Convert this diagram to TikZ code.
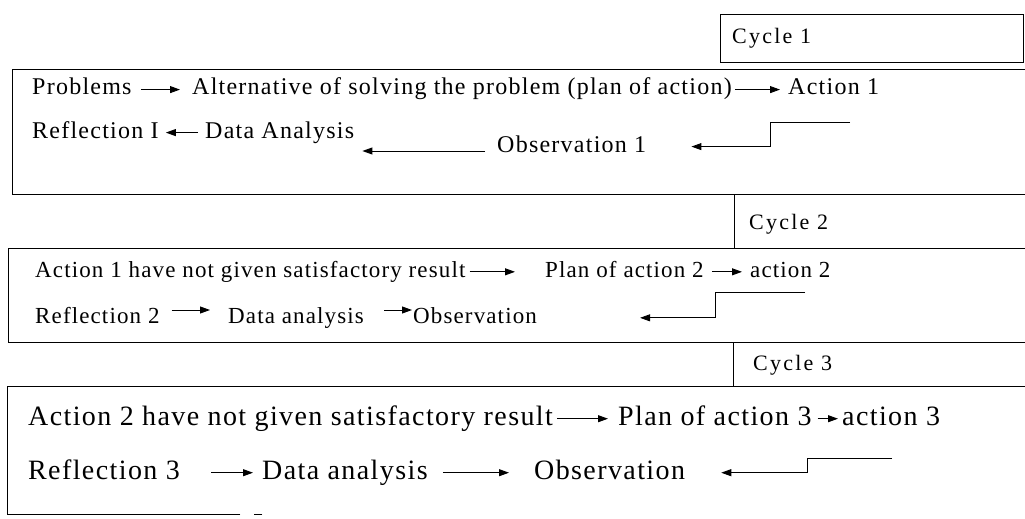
\documentclass[tikz,border=0pt]{standalone}
\usepackage{fontspec}
\setmainfont{Liberation Serif}
\newfontfamily\rowAfont[LetterSpace=5.2]{Liberation Serif}
\newfontfamily\rowBfont[LetterSpace=4.9]{Liberation Serif}
\newfontfamily\rowCfont[LetterSpace=5]{Liberation Serif}
\newfontfamily\cycfont[LetterSpace=10]{Liberation Serif}
\usetikzlibrary{arrows.meta,calc}
\tikzset{
  frame/.style={line width=0.9pt, line cap=rect},
  arr/.style={line width=0.9pt, -{Triangle[length=10pt,width=7pt]}},
  tA/.style={anchor=base west, inner sep=0pt, font=\rowAfont\fontsize{24}{28}\selectfont, text height=16.8pt, text depth=6pt},
  tB/.style={anchor=base west, inner sep=0pt, font=\rowBfont\fontsize{23}{27}\selectfont, text height=16.1pt, text depth=5.75pt},
  tC/.style={anchor=base west, inner sep=0pt, font=\rowCfont\fontsize{28}{32}\selectfont, text height=19.6pt, text depth=7pt},
  tCy/.style={anchor=base west, inner sep=0pt, font=\cycfont\fontsize{22}{26}\selectfont},
}
\begin{document}
\begin{tikzpicture}[x=1pt,y=-1pt]
\useasboundingbox (0,0) rectangle (1025,519);
% frames
\draw[frame] (720,14) -- (1023,14) -- (1023,62) -- (720,62) -- cycle;
\draw[frame] (1025,69) -- (12,69) -- (12,194) -- (1025,194);
\draw[frame] (734,194) -- (734,248);
\draw[frame] (1025,248) -- (8,248) -- (8,342) -- (1025,342);
\draw[frame] (733,342) -- (733,386);
\draw[frame] (1025,386) -- (7,386) -- (7,514) -- (240,514);
\draw[frame] (254,514) -- (262,514);
% cycle labels
\node[tCy] (c1) at (732,44) {Cycle 1};
\node[tCy] (c2) at (749,229) {Cycle 2};
\node[tCy] (c3) at (753,370) {Cycle 3};
% box 1
\node[tA] (prob) at (32,95) {Problems};
\node[tA] (alt) at (192,95) {Alternative of solving the problem (plan of action)};
\node[tA] (act1) at (788,95) {Action 1};
\node[tA] (refl1) at (32,138) {Reflection I};
\node[tA] (da1) at (205,138) {Data Analysis};
\node[tA] (obs1) at (497,152) {Observation 1};
\coordinate (lowA) at (0,151);
\coordinate (e1) at (850,122);
\coordinate (k1) at (770,122);
\draw[arr, shorten <=9pt, shorten >=12pt] (prob.east) -- (alt.west);
\draw[arr, shorten <=3pt, shorten >=8pt] (alt.east) -- (act1.west);
\draw[arr, shorten <=7pt, shorten >=7pt] (da1.west) -- (refl1.east);
\draw[arr, shorten <=12pt, shorten >=8pt] (obs1.west |- lowA) -- (da1.east |- lowA);
\draw[arr, shorten >=45pt] (e1) -- (k1) |- (obs1.east);
% box 2
\node[tB] (a1n) at (35,277) {Action 1 have not given satisfactory result};
\node[tB] (pa2) at (545,277) {Plan of action 2};
\node[tB] (act2) at (750,277) {action 2};
\node[tB] (refl2) at (35,323) {Reflection 2};
\node[tB] (da2) at (228,323) {Data analysis};
\node[tB] (obs2) at (413,323) {Observation};
\coordinate (lowB) at (0,310);
\coordinate (e2) at (805,292);
\coordinate (k2) at (715,292);
\draw[arr, shorten <=4pt, shorten >=30pt] (a1n.east) -- (pa2.west);
\draw[arr, shorten <=8pt, shorten >=8pt] (pa2.east) -- (act2.west);
\draw[arr, shorten <=12pt, shorten >=18pt] (refl2.east |- lowB) -- (da2.west |- lowB);
\draw[arr, shorten <=20pt, shorten >=1pt] (da2.east |- lowB) -- (obs2.west |- lowB);
\draw[arr, shorten >=103pt] (e2) -- (k2) |- (obs2.east);
% box 3
\node[tC] (a2n) at (28,425) {Action 2 have not given satisfactory result};
\node[tC] (pa3) at (618,425) {Plan of action 3};
\node[tC] (act3) at (842,425) {action 3};
\node[tC] (refl3) at (28,479) {Reflection 3};
\node[tC] (da3) at (262,479) {Data analysis};
\node[tC] (obs3) at (534,479) {Observation};
\coordinate (e3) at (892,458);
\coordinate (k3) at (807,458);
\draw[arr, shorten <=4pt, shorten >=10pt] (a2n.east) -- (pa3.west);
\draw[arr, shorten <=6pt, shorten >=4pt] (pa3.east) -- (act3.west);
\draw[arr, shorten <=31pt, shorten >=9pt] (refl3.east) -- (da3.west);
\draw[arr, shorten <=15pt, shorten >=25pt] (da3.east) -- (obs3.west);
\draw[arr, shorten >=36pt] (e3) -- (k3) |- (obs3.east);
\end{tikzpicture}
\end{document}
